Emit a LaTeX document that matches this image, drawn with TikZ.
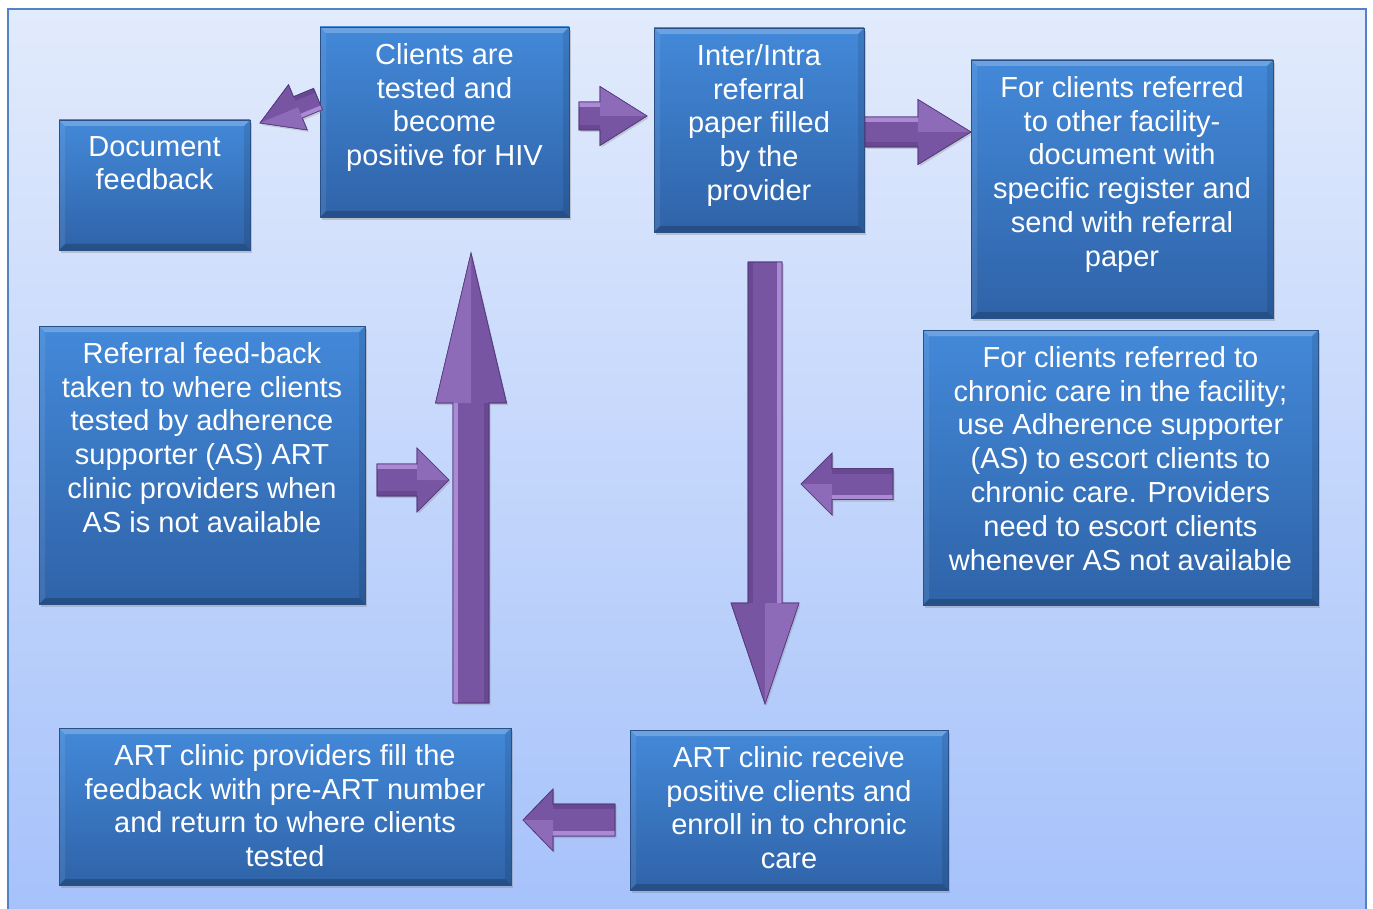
\documentclass[tikz,border=0pt]{standalone}
\usepackage{fontspec}
\setmainfont{Liberation Sans}
\usetikzlibrary{calc,shadows}

\definecolor{bgtop}{HTML}{E2EBFC}
\definecolor{bgbot}{HTML}{A6C2FB}
\definecolor{bgedge}{HTML}{5283C4}
\definecolor{boxtop}{HTML}{4389D9}
\definecolor{boxbot}{HTML}{2F63A8}
\definecolor{boxedge}{HTML}{2A5187}
\definecolor{arrbody}{HTML}{7755A3}
\definecolor{arrlight}{HTML}{B796E2}
\definecolor{arredge}{HTML}{553A7D}

\tikzset{
  flowbox/.style={rectangle, inner sep=0pt, outer sep=0pt,
    draw=boxedge, line width=0.8pt, top color=boxtop, bottom color=boxbot,
    drop shadow={opacity=0.35, shadow xshift=1.5pt, shadow yshift=-3pt},
    path picture={
      \fill[white,opacity=0.22] (path picture bounding box.north west) -- (path picture bounding box.north east)
        -- ([xshift=-6pt,yshift=-6pt]path picture bounding box.north east) -- ([xshift=6pt,yshift=-6pt]path picture bounding box.north west) -- cycle;
      \fill[black,opacity=0.2] (path picture bounding box.south west) -- (path picture bounding box.south east)
        -- ([xshift=-6pt,yshift=6pt]path picture bounding box.south east) -- ([xshift=6pt,yshift=6pt]path picture bounding box.south west) -- cycle;
      \fill[white,opacity=0.08] (path picture bounding box.north west) -- (path picture bounding box.south west)
        -- ([xshift=6pt,yshift=6pt]path picture bounding box.south west) -- ([xshift=6pt,yshift=-6pt]path picture bounding box.north west) -- cycle;
      \fill[black,opacity=0.1] (path picture bounding box.north east) -- (path picture bounding box.south east)
        -- ([xshift=-6pt,yshift=6pt]path picture bounding box.south east) -- ([xshift=-6pt,yshift=-6pt]path picture bounding box.north east) -- cycle;
    }},
  flowtext/.style={text=white, align=center, inner sep=0pt, anchor=north,
    font=\fontsize{29}{33.8}\selectfont},
  arrowbody/.style={fill=arrbody, draw=arredge, line width=0.6pt, line join=miter,
    drop shadow={opacity=0.3, shadow xshift=1.5pt, shadow yshift=-2pt}},
}

% block arrow: #1 tail, #2 tip, #3 shaft half width, #4 head half width,
% #5 head length, #6 inner edge of the bevel strip
\newcommand\blockarrow[6]{%
  \coordinate (ba-s) at (#1);
  \coordinate (ba-t) at (#2);
  \coordinate (ba-h) at ($(ba-t)!#5!(ba-s)$);
  \filldraw[arrowbody]
    ($(ba-s)!#3!90:(ba-t)$) -- ($(ba-h)!#3!90:(ba-t)$) -- ($(ba-h)!#4!90:(ba-t)$)
    -- (ba-t) -- ($(ba-h)!#4!-90:(ba-t)$) -- ($(ba-h)!#3!-90:(ba-t)$)
    -- ($(ba-s)!#3!-90:(ba-t)$) -- cycle;
  % light bevel on one side of the shaft
  \fill[arrlight,opacity=0.8]
    ($(ba-s)!#3!90:(ba-t)$) -- ($(ba-h)!#3!90:(ba-t)$) -- ($(ba-h)!#6!90:(ba-t)$) -- ($(ba-s)!#6!90:(ba-t)$) -- cycle;
  % dark bevel on the other side
  \fill[arredge,opacity=0.45]
    ($(ba-s)!#3!-90:(ba-t)$) -- ($(ba-h)!#3!-90:(ba-t)$) -- ($(ba-h)!#6!-90:(ba-t)$) -- ($(ba-s)!#6!-90:(ba-t)$) -- cycle;
  % lighter facet of the head
  \fill[arrlight,opacity=0.35]
    ($(ba-h)!#4!90:(ba-t)$) -- (ba-t) -- (ba-h) -- cycle;
  \draw[arredge,line width=0.6pt,line join=miter]
    ($(ba-s)!#3!90:(ba-t)$) -- ($(ba-h)!#3!90:(ba-t)$) -- ($(ba-h)!#4!90:(ba-t)$)
    -- (ba-t) -- ($(ba-h)!#4!-90:(ba-t)$) -- ($(ba-h)!#3!-90:(ba-t)$)
    -- ($(ba-s)!#3!-90:(ba-t)$) -- cycle;
}

\begin{document}
\begin{tikzpicture}[x=1pt,y=-1pt]
\useasboundingbox (0,0) rectangle (1373,909);
\fill[white] (0,0) rectangle (1373,909);

% panel
\shade[top color=bgtop, bottom color=bgbot] (8,9) rectangle (1366,915);
\draw[bgedge, line width=1.6pt] (8,9) rectangle (1366,915);

% boxes
\node[flowbox, minimum width=191pt, minimum height=130pt] (doc) at (154.5,185) {};
\node[flowbox, minimum width=249pt, minimum height=190pt] (tested) at (444.5,122) {};
\node[flowbox, minimum width=210pt, minimum height=204pt] (paper) at (759,130) {};
\node[flowbox, minimum width=302pt, minimum height=258pt] (other) at (1122,189) {};
\node[flowbox, minimum width=326pt, minimum height=278pt] (feedback) at (202,465) {};
\node[flowbox, minimum width=395pt, minimum height=275pt] (chronic) at (1120.5,467.5) {};
\node[flowbox, minimum width=452pt, minimum height=157pt] (fill) at (285,806.5) {};
\node[flowbox, minimum width=318pt, minimum height=160pt] (enroll) at (789,810) {};

% box texts
\node[flowtext] (doc-t) at ([yshift=-16pt]doc.north) {Document\\feedback};
\node[flowtext] (tested-t) at ([yshift=-16pt]tested.north) {Clients are\\tested and\\become\\positive for HIV};
\node[flowtext] (paper-t) at ([yshift=-16pt]paper.north) {Inter/Intra\\referral\\paper filled\\by the\\provider};
\node[flowtext] (other-t) at ([yshift=-16pt]other.north) {For clients referred\\to other facility-\\document with\\specific register and\\send with referral\\paper};
\node[flowtext] (feedback-t) at ([yshift=-16pt]feedback.north) {Referral feed-back\\taken to where clients\\tested by adherence\\supporter (AS) ART\\clinic providers when\\AS is not available};
\node[flowtext] (chronic-t) at ([yshift=-16pt]chronic.north) {For clients referred to\\chronic care in the facility;\\use Adherence supporter\\(AS) to escort clients to\\chronic care. Providers\\need to escort clients\\whenever AS not available};
\node[flowtext] (fill-t) at ([yshift=-16pt]fill.north) {ART clinic providers fill the\\feedback with pre-ART number\\and return to where clients\\tested};
\node[flowtext] (enroll-t) at ([yshift=-16pt]enroll.north) {ART clinic receive\\positive clients and\\enroll in to chronic\\care};

% arrow ends
\coordinate (a1s) at (318,99);   \coordinate (a1t) at (260,123);
\coordinate (a2s) at (579,116);  \coordinate (a2t) at (647,116);
\coordinate (a3s) at (865,132);  \coordinate (a3t) at (971,132);
\coordinate (a4s) at (471,703);  \coordinate (a4t) at (471,253);
\coordinate (a5s) at (765,262);  \coordinate (a5t) at (765,704);
\coordinate (a6s) at (377,480);  \coordinate (a6t) at (449,480);
\coordinate (a7s) at (893,484);  \coordinate (a7t) at (801,484);
\coordinate (a8s) at (615,820);  \coordinate (a8t) at (523,820);

% arrows
\blockarrow{a1s}{a1t}{11.5pt}{24.5pt}{41pt}{7pt}
\blockarrow{a2s}{a2t}{14pt}{29.5pt}{47pt}{9pt}
\blockarrow{a3s}{a3t}{15pt}{32.5pt}{53pt}{10pt}
\blockarrow{a4s}{a4t}{18pt}{35.5pt}{150pt}{13pt}
\blockarrow{a5s}{a5t}{17pt}{34pt}{101pt}{12pt}
\blockarrow{a6s}{a6t}{16pt}{32pt}{32pt}{11pt}
\blockarrow{a7s}{a7t}{15.5pt}{31pt}{31pt}{10.5pt}
\blockarrow{a8s}{a8t}{16pt}{31pt}{30pt}{11pt}
\end{tikzpicture}
\end{document}
